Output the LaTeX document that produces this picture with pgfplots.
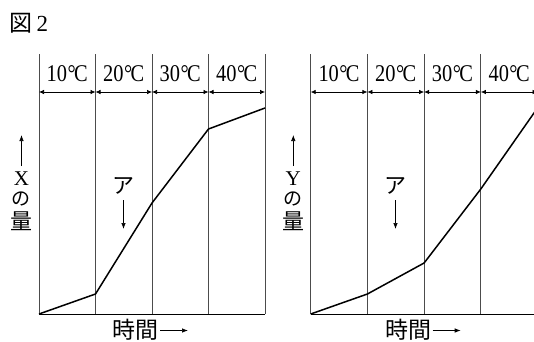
\documentclass[border=0pt]{standalone}
\usepackage{fontspec}
\setmainfont{Liberation Serif}
\newfontfamily\cjk{Noto Sans CJK JP}
\usepackage{pgfplots}
\pgfplotsset{compat=1.18}
\usetikzlibrary{arrows.meta}

% one temperature block: label and double arrow between two grid lines
\newcommand{\tband}[2]{%
  \node[font=\fontsize{24}{28}\selectfont, inner sep=0pt] at (axis cs:#1+0.5,240)
    {\scalebox{0.85}[1]{#2\kern0.5pt\raisebox{0.1pt}{°}\kern-1.8pt C}};
  \draw[{Latex[length=5pt,width=4.5pt]}-{Latex[length=5pt,width=4.5pt]}, line width=0.7pt]
    (axis cs:#1,222) -- (axis cs:#1+1,222);}

\pgfplotsset{
  panel/.style={
    scale only axis,
    width=226pt, height=260pt,
    xmin=0, xmax=4, ymin=0, ymax=260,
    axis x line=bottom, axis y line=none,
    x axis line style={-, line width=0.8pt},
    xtick={0,1,2,3,4}, xticklabels={}, ytick=\empty,
    major tick length=0pt,
    xmajorgrids,
    major grid style={line width=0.8pt, draw=black!70},
    clip=false,
  },
}

\begin{document}
\begin{tikzpicture}[x=1pt,y=1pt]
\useasboundingbox (0,0) rectangle (534,341);
\clip (0,0) rectangle (534,341);

\node[font=\fontsize{23}{26}\selectfont, anchor=west, inner sep=0pt] at (9.5,318) {{\cjk 図}\kern4pt 2};

% left panel
\begin{axis}[panel, at={(39pt,27pt)}, anchor=south west]
\addplot[black, line width=1.5pt] coordinates {(0,0) (1,20) (2,111) (3,185) (4,206)};
\tband{0}{10}\tband{1}{20}\tband{2}{30}\tband{3}{40}
\end{axis}

% right panel
\begin{axis}[panel, at={(310.7pt,27pt)}, anchor=south west, width=226.8pt]
\addplot[black, line width=1.5pt] coordinates {(0,0) (1,20) (2,51) (3,125) (4,206)};
\tband{0}{10}\tband{1}{20}\tband{2}{30}\tband{3}{40}
\end{axis}

% y labels
\foreach \xx/\lab in {21.5/X, 293.3/Y} {
  \draw[-{Latex[length=6pt,width=4.5pt]}, line width=0.7pt] (\xx,175) -- (\xx,206);
  \node[font=\fontsize{21}{24}\selectfont, inner sep=0pt] at (\xx,162.5) {\lab};
  \node[font=\fontsize{19}{22}\selectfont\cjk, inner sep=0pt] at (\xx,142) {の};
  \node[font=\fontsize{22}{24}\selectfont\cjk, inner sep=0pt] at (\xx,119.5) {量};
}

% ア markers
\foreach \xx in {123, 395} {
  \node[font=\fontsize{22}{24}\selectfont\cjk, inner sep=0pt] at (\xx,155) {ア};
  \draw[-{Latex[length=6pt,width=4.5pt]}, line width=0.7pt] (\xx+0.5,141) -- (\xx+0.5,112);
}

% x labels
\foreach \xx in {112.5, 385.2} {
  \node[font=\fontsize{23}{26}\selectfont\cjk, anchor=west, inner sep=0pt] at (\xx,11) {時間};
  \draw[-{Latex[length=6pt,width=4.5pt]}, line width=0.7pt] (\xx+47.5,10.5) -- (\xx+75.5,10.5);
}
\end{tikzpicture}
\end{document}
